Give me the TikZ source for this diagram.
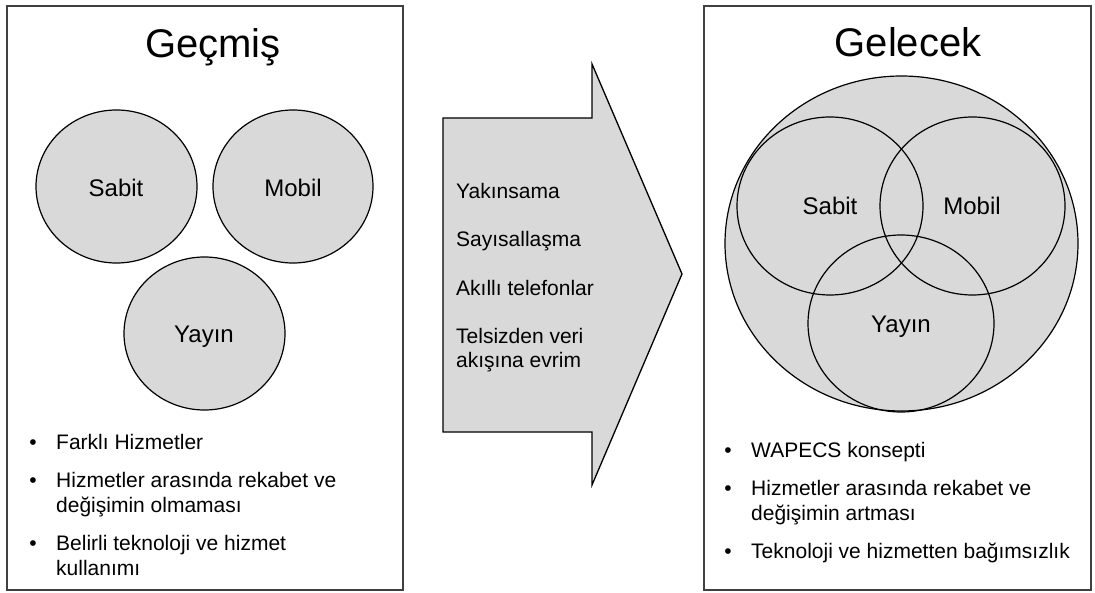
\documentclass[tikz,border=0pt]{standalone}
\usepackage{fontspec}
\setmainfont{Liberation Sans}
\definecolor{shade}{RGB}{217,217,217}
\definecolor{framec}{RGB}{64,64,64}
\begin{document}
\begin{tikzpicture}[x=1pt,y=-1pt,
  panel/.style={draw=framec, line width=1.5pt},
  blob/.style={draw=black, line width=1.2pt},
  title/.style={font=\fontsize{40}{48}\selectfont, anchor=base, inner sep=0pt},
  lbl/.style={font=\fontsize{24}{28}\selectfont, anchor=base, inner sep=0pt},
  txt/.style={font=\fontsize{21}{25}\selectfont, anchor=base west, inner sep=0pt},
  bul/.style={font=\fontsize{21}{25}\selectfont, anchor=base, inner sep=0pt}]
\useasboundingbox (0,0) rectangle (1095,593);
\fill[white] (0,0) rectangle (1095,593);

% ---------- left panel ----------
\draw[panel] (7,6) rectangle (403,590);
\node[title] (t1) at (213,58) {Geçmiş};
\draw[blob, fill=shade] (116.5,186.5) ellipse [x radius=80.5, y radius=76.5];
\draw[blob, fill=shade] (293,186.5) ellipse [x radius=80, y radius=76.5];
\draw[blob, fill=shade] (204.5,333.5) ellipse [x radius=80.5, y radius=76.5];
\node[lbl] (ls) at (116,197) {Sabit};
\node[lbl] (lm) at (293,197) {Mobil};
\node[lbl] (ly) at (204,343) {Yayın};

\node[bul] (lb1) at (33,449.5) {•};
\node[txt] (lt1) at (56,449.5) {Farklı Hizmetler};
\node[bul] (lb2) at (33,487.5) {•};
\node[txt] (lt2) at (56,487.5) {Hizmetler arasında rekabet ve};
\node[txt] (lt2b) at (56,512.5) {değişimin olmaması};
\node[bul] (lb3) at (33,550.5) {•};
\node[txt] (lt3) at (56,550.5) {Belirli teknoloji ve hizmet};
\node[txt] (lt3b) at (56,575.5) {kullanımı};

% ---------- arrow ----------
\draw[blob, line width=1.3pt, fill=shade, line join=miter]
  (443,118) -- (592,118) -- (592,64) -- (682,274) -- (592,485) -- (592,432) -- (443,432) -- cycle;
\node[txt] (a1) at (456,198.5) {Yakınsama};
\node[txt] (a2) at (456,246.5) {Sayısallaşma};
\node[txt] (a3) at (456,295.5) {Akıllı telefonlar};
\node[txt] (a4) at (456,343.5) {Telsizden veri};
\node[txt] (a4b) at (456,367.5) {akışına evrim};

% ---------- right panel ----------
\draw[panel] (704,6) rectangle (1091,590);
\node[title] (t2) at (908,57) {Gelecek};
\draw[blob, fill=shade] (901.5,243.5) ellipse [x radius=176.5, y radius=167.5];
\draw[blob] (830,206) ellipse [x radius=93, y radius=89];
\draw[blob] (972.5,206) ellipse [x radius=92.5, y radius=89];
\draw[blob] (901,323.5) ellipse [x radius=93, y radius=88.5];
\node[lbl] (rs) at (830,215) {Sabit};
\node[lbl] (rm) at (972,215) {Mobil};
\node[lbl] (ry) at (901,333) {Yayın};

\node[bul] (rb1) at (728,457.5) {•};
\node[txt] (rt1) at (751,457.5) {WAPECS konsepti};
\node[bul] (rb2) at (728,495.5) {•};
\node[txt] (rt2) at (751,495.5) {Hizmetler arasında rekabet ve};
\node[txt] (rt2b) at (751,520.5) {değişimin artması};
\node[bul] (rb3) at (728,558.5) {•};
\node[txt] (rt3) at (751,558.5) {Teknoloji ve hizmetten bağımsızlık};
\end{tikzpicture}
\end{document}
